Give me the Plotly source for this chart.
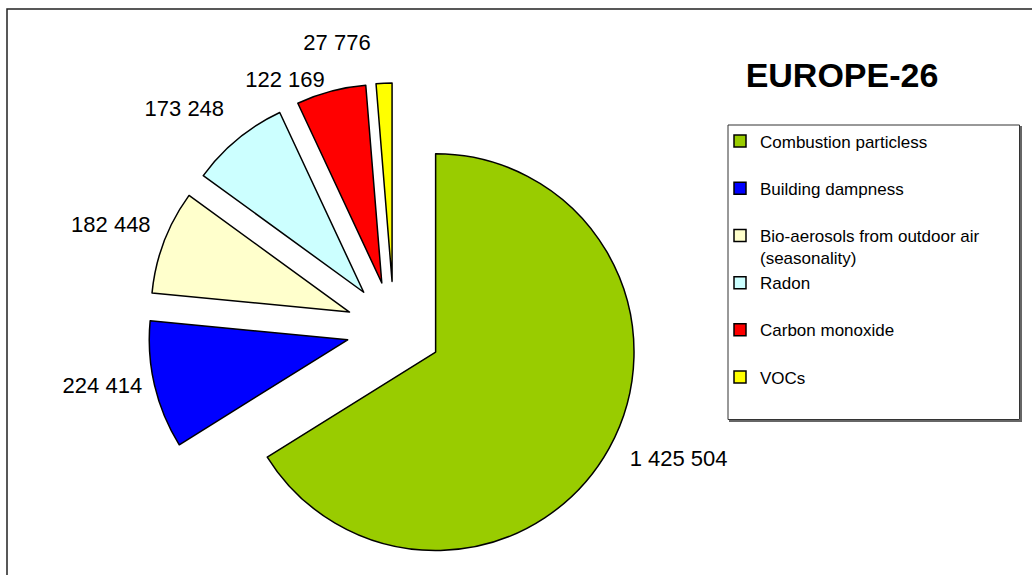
import plotly.graph_objects as go

categories = [
    "Combustion particless",
    "Building dampness",
    "Bio-aerosols from outdoor air<br>(seasonality)",
    "Radon",
    "Carbon monoxide",
    "VOCs",
]
values = [1425504, 224414, 182448, 173248, 122169, 27776]
colors = ["#99CC00", "#0000FF", "#FFFFCC", "#CCFFFF", "#FF0000", "#FFFF00"]
title_text = "EUROPE-26"

W, H = 1032, 575
FONT = "Liberation Sans, Arial, sans-serif"
PULL = 0.24
DOMAIN = dict(x=[148 / W, 640 / W], y=[0, 1 - 83 / H])
LABEL_FONT = dict(family=FONT, size=22, color="black")

# value-label templates; blank padding nudges Plotly's outside labels
# a little further from the slices, as in the original chart
V = "%{value:,}"
NB = "&nbsp;"
label_tpl = [
    NB + "<br>" + V + "<br>" + NB,
    NB + V + NB,
    V + "<br>" + NB,
    V + "<br>" + NB,
    V,
    V + "<br>" + NB,
]

# pad single-line legend entries to two lines so spacing matches
legend_labels = [c if "<br>" in c else c + "<br> " for c in categories]

n = len(values)
last = n - 1

fig = go.Figure()
# main pie (value labels for all but the thin last slice)
fig.add_trace(go.Pie(
    labels=legend_labels,
    values=values,
    sort=False,
    direction="clockwise",
    rotation=0,
    pull=[PULL] * n,
    marker=dict(colors=colors, line=dict(color="black", width=1.5)),
    texttemplate=label_tpl,
    textposition=["outside"] * last + ["none"],
    outsidetextfont=LABEL_FONT,
    hoverinfo="label+value",
    domain=DOMAIN,
    showlegend=True,
))
# identical, transparent overlay carrying the last slice's label alone
fig.add_trace(go.Pie(
    labels=legend_labels,
    values=values,
    sort=False,
    direction="clockwise",
    rotation=0,
    pull=[PULL] * n,
    marker=dict(colors=["rgba(0,0,0,0)"] * n, line=dict(width=0)),
    texttemplate=label_tpl,
    textposition=["none"] * last + ["outside"],
    outsidetextfont=LABEL_FONT,
    hoverinfo="skip",
    domain=DOMAIN,
    showlegend=False,
))

fig.update_layout(
    width=W, height=H,
    margin=dict(l=0, r=0, t=0, b=0, autoexpand=False),
    paper_bgcolor="white",
    plot_bgcolor="white",
    separators=". ",
    font=dict(family=FONT, color="black"),
    title=dict(
        text="<b>" + title_text + "</b>",
        x=842 / W, y=1 - 75 / H, xanchor="center", yanchor="middle",
        xref="paper", yref="paper",
        font=dict(family=FONT, size=34, color="black"),
    ),
    legend=dict(
        x=720 / W, y=1 - 123.5 / H, xanchor="left", yanchor="top",
        bgcolor="rgba(0,0,0,0)", borderwidth=0,
        font=dict(family=FONT, size=17, color="black"),
        valign="top", traceorder="normal",
    ),
    shapes=[
        # outer chart frame
        dict(type="rect", xref="paper", yref="paper",
             x0=7 / W, x1=1.02, y0=-0.02, y1=1 - 9 / H,
             line=dict(color="#222222", width=1.5), layer="below"),
        # legend box (shadow then box)
        dict(type="rect", xref="paper", yref="paper",
             x0=730 / W, x1=1021 / W, y0=1 - 421 / H, y1=1 - 127 / H,
             line=dict(color="#666666", width=2), layer="below"),
        dict(type="rect", xref="paper", yref="paper",
             x0=728 / W, x1=1019.5 / W, y0=1 - 419.5 / H, y1=1 - 125 / H,
             line=dict(color="#333333", width=1), fillcolor="white", layer="below"),
    ],
)

fig.write_html("out.html")
